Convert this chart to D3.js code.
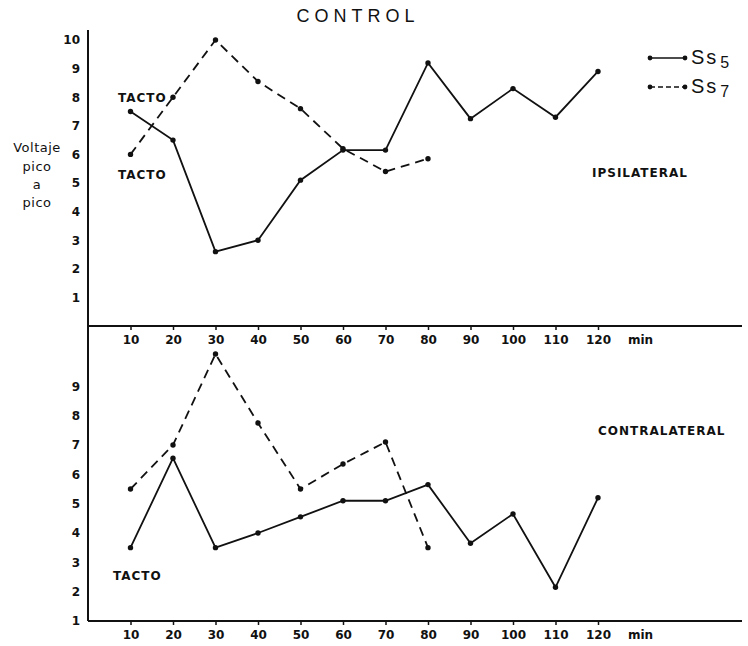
<!DOCTYPE html>
<meta charset="utf-8">
<style>
  body { margin: 0; background: #fff; }
  text { fill: #111; }
</style>
<svg width="748" height="646"></svg>
<script src="https://d3js.org/d3.v7.min.js"></script>
<script>

var svg = d3.select("svg"),
    width = 748,
    height = 646;

// time in minutes
var minutes = [10, 20, 30, 40, 50, 60, 70, 80, 90, 100, 110, 120];

// ipsilateral peak-to-peak voltage
var ipsiSs5 = [7.5, 6.5, 2.6, 3.0, 5.1, 6.15, 6.15, 9.2, 7.25, 8.3, 7.3, 8.9],
    ipsiSs7 = [6.0, 8.0, 10.0, 8.55, 7.6, 6.2, 5.4, 5.85];

// contralateral peak-to-peak voltage
var contraSs5 = [3.5, 6.55, 3.5, 4.0, 4.55, 5.1, 5.1, 5.65, 3.65, 4.65, 2.15, 5.2],
    contraSs7 = [5.5, 7.0, 10.1, 7.75, 5.5, 6.35, 7.1, 3.5];

var topTicks = [1, 2, 3, 4, 5, 6, 7, 8, 9, 10],
    bottomTicks = [1, 2, 3, 4, 5, 6, 7, 8, 9];

var tickFont = "bold 12px 'DejaVu Sans'";

var x = d3.scaleLinear().domain([0, 120]).range([88, 598]);
var yTop = d3.scaleLinear().domain([0, 10]).range([326, 40]);
var yBot = d3.scaleLinear().domain([1, 10]).range([621, 357]);

// title
svg.append("text")
    .attr("x", 358).attr("y", 22)
    .attr("text-anchor", "middle")
    .style("font", "18px 'Liberation Sans'")
    .style("letter-spacing", "5px")
    .text("CONTROL");

// axes
function xAxis(yPos) {
  var g = svg.append("g")
      .attr("transform", "translate(0," + yPos + ")")
      .call(d3.axisBottom(x).tickValues(minutes).tickSize(4).tickPadding(5).tickFormat(d3.format("d")));
  g.select(".domain").remove();
  g.selectAll("line").attr("stroke", "#111").attr("stroke-width", 1.5);
  g.selectAll("text").style("font", tickFont).attr("fill", "#111");
  svg.append("line")
      .attr("x1", x(0)).attr("x2", width - 6)
      .attr("y1", yPos).attr("y2", yPos)
      .attr("stroke", "#111").attr("stroke-width", 2);
  svg.append("text")
      .attr("x", 628).attr("y", yPos + 18)
      .style("font", tickFont)
      .text("min");
}

function yAxis(scale, ticks, y1, y2) {
  var g = svg.append("g")
      .attr("transform", "translate(" + x(0) + ",0)")
      .call(d3.axisLeft(scale).tickValues(ticks).tickSize(0).tickPadding(8));
  g.select(".domain").remove();
  g.selectAll("text").style("font", tickFont).attr("fill", "#111");
  svg.append("line")
      .attr("x1", x(0)).attr("x2", x(0))
      .attr("y1", y1).attr("y2", y2)
      .attr("stroke", "#111").attr("stroke-width", 2);
}

yAxis(yTop, topTicks, 30, 326);
yAxis(yBot, bottomTicks, 326, 621);
xAxis(326);
xAxis(621);

// series
function series(values, scale, dashed) {
  var pts = values.map(function(v, i) { return [x(minutes[i]), scale(v)]; });
  svg.append("path")
      .attr("d", d3.line()(pts))
      .attr("fill", "none")
      .attr("stroke", "#111")
      .attr("stroke-width", 1.8)
      .attr("stroke-dasharray", dashed ? "9,6" : null);
  svg.append("g").selectAll("circle")
    .data(pts)
    .enter().append("circle")
      .attr("cx", function(d) { return d[0]; })
      .attr("cy", function(d) { return d[1]; })
      .attr("r", 2.7)
      .attr("fill", "#111");
}

series(ipsiSs5, yTop, false);
series(ipsiSs7, yTop, true);
series(contraSs5, yBot, false);
series(contraSs7, yBot, true);

// legend
var legend = [{label: "5", dashed: false, y: 58}, {label: "7", dashed: true, y: 87}];
legend.forEach(function(d) {
  svg.append("line")
      .attr("x1", 650).attr("x2", 685)
      .attr("y1", d.y).attr("y2", d.y)
      .attr("stroke", "#111").attr("stroke-width", 1.5)
      .attr("stroke-dasharray", d.dashed ? "5,3" : null);
  svg.selectAll(null).data([650, 685]).enter().append("circle")
      .attr("cx", function(c) { return c; }).attr("cy", d.y)
      .attr("r", 2.4).attr("fill", "#111");
  var t = svg.append("text")
      .attr("x", 691).attr("y", d.y + 6)
      .style("font", "20px 'Liberation Sans'")
      .style("letter-spacing", "2px");
  t.append("tspan").text("Ss");
  t.append("tspan").attr("dx", 2).attr("dy", 4).style("font-size", "16px").text(d.label);
});

// annotations
var notes = [
  {text: "TACTO", x: 118, y: 102},
  {text: "TACTO", x: 118, y: 179},
  {text: "TACTO", x: 113, y: 580},
  {text: "IPSILATERAL", x: 592, y: 177},
  {text: "CONTRALATERAL", x: 598, y: 435}
];
svg.selectAll(null).data(notes).enter().append("text")
    .attr("x", function(d) { return d.x; })
    .attr("y", function(d) { return d.y; })
    .style("font", "bold 12px 'DejaVu Sans'")
    .style("letter-spacing", "1px")
    .text(function(d) { return d.text; });

// y label
var ylab = ["Voltaje", "pico", "a", "pico"],
    ylabY = [152, 171, 189, 207];
svg.selectAll(null).data(ylab).enter().append("text")
    .attr("x", 37)
    .attr("y", function(d, i) { return ylabY[i]; })
    .attr("text-anchor", "middle")
    .style("font", "13px 'DejaVu Sans'")
    .style("letter-spacing", "0.5px")
    .text(function(d) { return d; });

</script>
